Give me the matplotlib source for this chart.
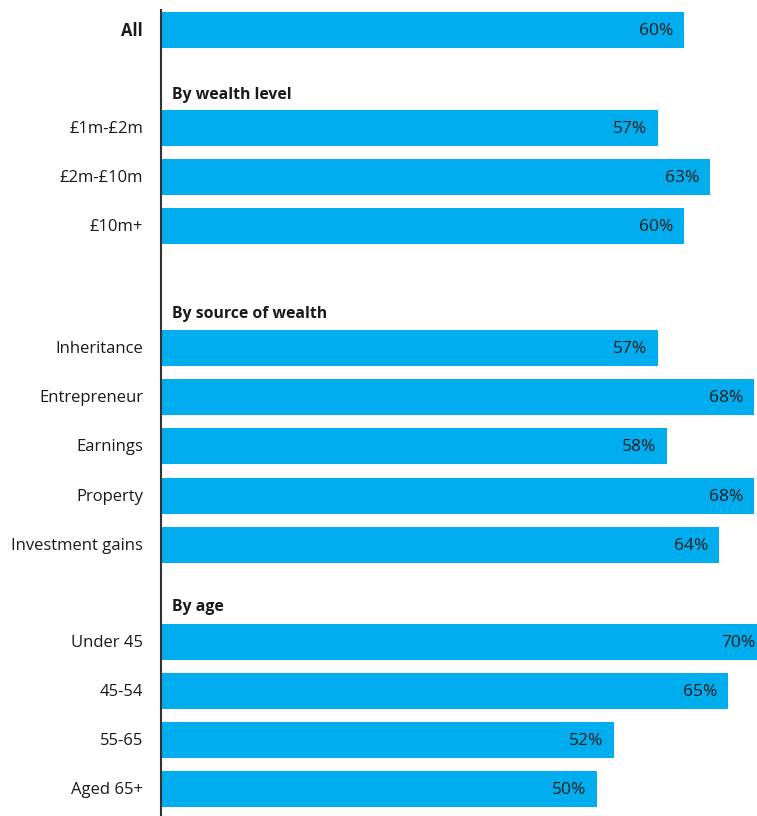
import matplotlib.pyplot as plt

plt.rcParams['font.family'] = ['Open Sans', 'DejaVu Sans']

categories = ['All',
              '£1m-£2m', '£2m-£10m', '£10m+',
              'Inheritance', 'Entrepreneur', 'Earnings', 'Property', 'Investment gains',
              'Under 45', '45-54', '55-65', 'Aged 65+']
values = [60, 57, 63, 60, 57, 68, 58, 68, 64, 70, 65, 52, 50]
headers = ['By wealth level', 'By source of wealth', 'By age']

# layout in pixel rows (figure is 816 px tall)
bar_y = [30, 128, 177, 226, 348, 397, 446, 496, 545, 642, 691, 740, 789]
header_y = [95, 314, 607]
bar_h = 36
color = '#00AEEF'

W, H = 757, 816
fig = plt.figure(figsize=(W / 100, H / 100), dpi=100)
left = 161
ax = fig.add_axes([left / W, 0, (W - left) / W, 1])
xmax = (W - left) / 8.72
ax.set_xlim(0, xmax)
ax.set_ylim(H, 0)

ax.barh(bar_y, values, height=bar_h, color=color, zorder=2)

for y, v in zip(bar_y, values):
    ax.text(min(v - 1.25, xmax - 0.15), y + 1, f'{v}%', ha='right', va='center',
            fontsize=12.5, color='#1a1a1a', zorder=3)

for y, c in zip(bar_y, categories):
    ax.text(-2.05, y + 1, c, ha='right', va='center', fontsize=12,
            color='#1a1a1a', fontweight='bold' if c == 'All' else 'normal',
            clip_on=False)

for y, h in zip(header_y, headers):
    ax.text(1.25, y, h, ha='left', va='center', fontsize=11.3,
            fontweight='bold', color='#1a1a1a')

for s in ['top', 'right', 'bottom']:
    ax.spines[s].set_visible(False)
ax.spines['left'].set_bounds(10, H)
ax.spines['left'].set_color('#333333')
ax.spines['left'].set_linewidth(1.5)
ax.set_xticks([])
ax.set_yticks([])

fig.savefig('out.png', dpi=100)
